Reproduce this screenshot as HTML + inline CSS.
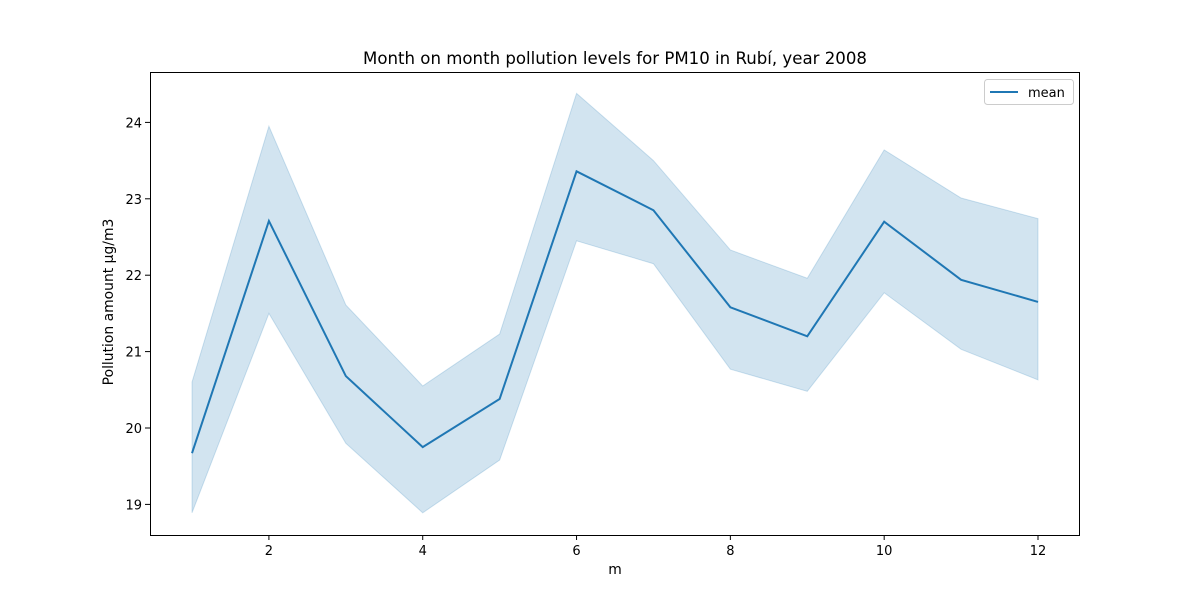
<!DOCTYPE html>
<html><head><meta charset="utf-8">
<style>
body{margin:0;background:#fff;font-family:"Liberation Sans","DejaVu Sans",sans-serif;}
svg text{font-family:"DejaVu Sans","Liberation Sans",sans-serif;fill:#000;}
</style></head>
<body>
<svg id="chart" width="1200" height="600" xmlns="http://www.w3.org/2000/svg">
<rect width="1200" height="600" fill="#fff"/>
<text x="615" y="64" font-size="16.6" text-anchor="middle">Month on month pollution levels for PM10 in Rubí, year 2008</text>
<g id="band"></g>
<g id="line"></g>
<g id="xt"></g>
<g id="yt"></g>
<rect x="150.5" y="72.5" width="929" height="463" fill="none" stroke="#000" stroke-width="1"/>
<text x="615" y="574" font-size="13.9" text-anchor="middle">m</text>
<text transform="translate(113,302) rotate(-90)" font-size="13.9" text-anchor="middle">Pollution amount μg/m3</text>
<g>
<rect x="984.5" y="79.5" width="89" height="25" rx="3" fill="#fff" stroke="#ccc"/>
<line x1="990" y1="92" x2="1018" y2="92" stroke="#1f77b4" stroke-width="2"/>
<text x="1028" y="97" font-size="13">mean</text>
</g>
</svg>
<script>
const months=[1,2,3,4,5,6,7,8,9,10,11,12];
const meanVals=[19.67,22.71,20.68,19.75,20.38,23.36,22.85,21.58,21.2,22.7,21.94,21.65];
const upperVals=[20.6,23.95,21.61,20.55,21.23,24.38,23.5,22.33,21.96,23.64,23.01,22.74];
const lowerVals=[18.89,21.5,19.8,18.89,19.58,22.45,22.15,20.77,20.48,21.77,21.03,20.63];
const xTicks=[2,4,6,8,10,12];
const yTicks=[19,20,21,22,23,24];
const NS="http://www.w3.org/2000/svg";
function sx(m){return 192+(m-1)*(1038-192)/11;}
function sy(v){return 428-(v-20)*76.4;}
function mk(t,a,p){const e=document.createElementNS(NS,t);for(const k in a)e.setAttribute(k,a[k]);p.appendChild(e);return e;}
const band=document.getElementById('band');
let pts=months.map((m,i)=>sx(m)+','+sy(upperVals[i]));
pts=pts.concat(months.slice().reverse().map((m,j)=>{const i=months.length-1-j;return sx(m)+','+sy(lowerVals[i]);}));
const poly=mk('polygon',{points:pts.join(' '),fill:'#1f77b4','fill-opacity':'0.2',stroke:'#1f77b4','stroke-opacity':'0.2'},band);


const pl=mk('polyline',{points:months.map((m,i)=>sx(m)+','+sy(meanVals[i])).join(' '),fill:'none',stroke:'#1f77b4','stroke-width':'2'},document.getElementById('line'));


const xt=document.getElementById('xt');
xTicks.forEach(t=>{
 const l=mk('line',{x1:sx(t),x2:sx(t),y1:535,y2:540,stroke:'#000'},xt);
 
 
 const tx=mk('text',{x:sx(t),y:555,'font-size':'13','text-anchor':'middle'},xt);tx.textContent=t;
 
 
});
const yt=document.getElementById('yt');
yTicks.forEach(t=>{
 const l=mk('line',{x1:145,x2:150,y1:sy(t),y2:sy(t),stroke:'#000'},yt);
 
 
 const tx=mk('text',{x:142,y:sy(t)+5,'font-size':'13','text-anchor':'end'},yt);tx.textContent=t;
 
 
});
</script>
</body></html>
